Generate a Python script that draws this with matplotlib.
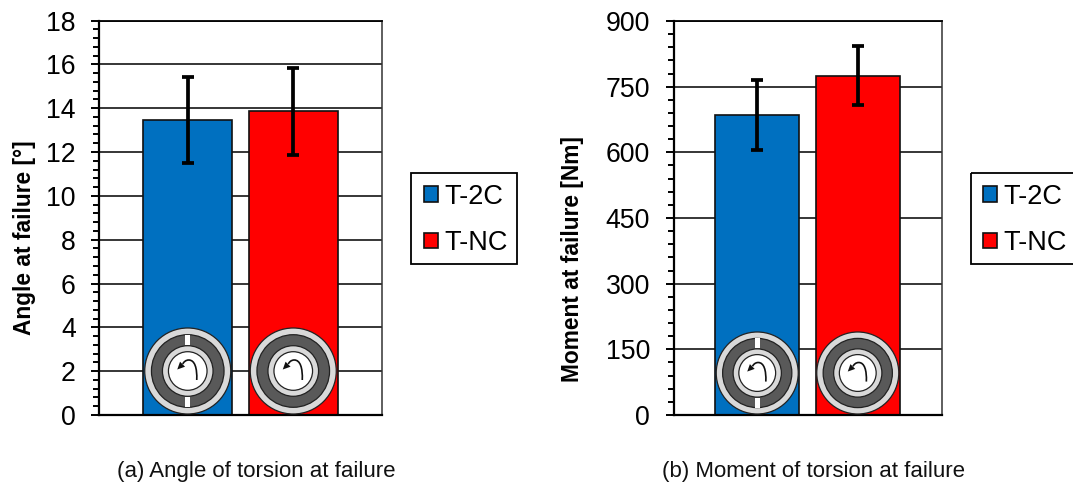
import matplotlib
matplotlib.use("Agg")
import matplotlib.pyplot as plt
from matplotlib.patches import Circle, Rectangle, PathPatch, Polygon
from matplotlib.path import Path
from matplotlib.ticker import MultipleLocator

plt.rcParams['font.family'] = ['Liberation Sans', 'DejaVu Sans']

W, H = 1073, 483
DPI = 100

# ---- data ----
categories = ["T-2C", "T-NC"]
angle_values = [13.45, 13.85]
angle_errors = [1.95, 2.0]
moment_values = [685, 775]
moment_errors = [80, 68]
angle_ticks = [0, 2, 4, 6, 8, 10, 12, 14, 16, 18]
moment_ticks = [0, 150, 300, 450, 600, 750, 900]
bar_colors = ["#0070C0", "#FF0000"]
slotted = [True, False]


def px_axes(left, right, top, bottom):
    return fig.add_axes([left / W, 1 - bottom / H, (right - left) / W, (bottom - top) / H])


def panel(ax, values, errors, ticks, minor, ylabel, label_xy, caption, caption_xy, legend_x, xlim):
    ax.set_axisbelow(True)
    ax.yaxis.grid(True, which='major', color='black', lw=1.1)
    ax.xaxis.grid(False)
    xs = [-0.5, 0.5]
    handles = []
    for x, v, e, c, n in zip(xs, values, errors, bar_colors, categories):
        b = ax.bar(x, v, width=0.84, color=c, edgecolor='#111111', lw=1.2, label=n, zorder=2)
        ax.errorbar(x, v, yerr=e, color='black', lw=2.7, capsize=4.4, capthick=2.7, zorder=3)
        handles.append(b)
    ax.set_xlim(*xlim)
    ax.set_ylim(ticks[0], ticks[-1])
    ax.set_xticks([])
    ax.set_yticks(ticks)
    ax.yaxis.set_minor_locator(MultipleLocator(minor))
    ax.tick_params(axis='y', which='major', length=5.8, width=1.4, labelsize=19.2, pad=11)
    ax.tick_params(axis='y', which='minor', length=4.0, width=1.4)
    for s in ('left', 'bottom'):
        ax.spines[s].set_linewidth(1.6)
    ax.spines['top'].set_linewidth(1.3)
    ax.spines['right'].set_linewidth(1.1)
    ax.spines['right'].set_color('#333333')
    fig.text(label_xy[0] / W, 1 - label_xy[1] / H, ylabel, rotation=90, fontsize=16.4,
             fontweight='bold', ha='center', va='center')
    fig.text(caption_xy[0] / W, 1 - caption_xy[1] / H, caption, fontsize=16, ha='center',
             va='center', color='#111111')
    leg = ax.legend(handles=handles, loc='upper left', bbox_to_anchor=((legend_x + 13) / W, 1 - 183.5 / H),
                    bbox_transform=fig.transFigure, fontsize=19.5, frameon=False,
                    borderaxespad=0, borderpad=0,
                    labelspacing=0.76, handlelength=0.53, handleheight=0.53, handletextpad=0.22)
    leg.set_zorder(10)
    return xs


def icon(ov, cx, cy, r, slots):
    k = r / 43.0
    ec = '#222222'
    ov.add_patch(Circle((cx, cy), r, fc='#D9D9D9', ec=ec, lw=0.9))
    ov.add_patch(Circle((cx, cy), 36.3 * k, fc='#595959', ec=ec, lw=0.9))
    if slots:
        for sgn in (-1, 1):
            y0 = cy + sgn * 31 * k
            ov.add_patch(Rectangle((cx - 2.5, y0 - 5.2 * k), 5, 10.4 * k, fc='white', ec='none'))
    ov.add_patch(Circle((cx, cy), 25.3 * k, fc='#D9D9D9', ec=ec, lw=0.9))
    ov.add_patch(Circle((cx, cy), 19.3 * k, fc='white', ec=ec, lw=0.9))
    verts = [(cx + 9 * k, cy + 9 * k), (cx + 9.5 * k, cy - 3 * k), (cx + 7 * k, cy - 11 * k),
             (cx + 1 * k, cy - 11 * k), (cx - 2 * k, cy - 11 * k), (cx - 4 * k, cy - 9 * k),
             (cx - 5 * k, cy - 7 * k)]
    codes = [Path.MOVETO] + [Path.CURVE4] * 6
    ov.add_patch(PathPatch(Path(verts, codes), fc='none', ec='#111111', lw=1.2))
    ov.add_patch(Polygon([(cx - 10.5 * k, cy - 1.5 * k), (cx - 7.7 * k, cy - 9.3 * k),
                          (cx - 2.7 * k, cy - 4.3 * k)], closed=True, fc='#111111', ec='none'))


fig = plt.figure(figsize=(W / DPI, H / DPI), dpi=DPI, facecolor='white')

ax1 = px_axes(99, 382, 20.5, 415)
ax2 = px_axes(673.5, 941.5, 21, 415)

xs1 = panel(ax1, angle_values, angle_errors, angle_ticks, 0.4, "Angle at failure [°]", (25, 237.5),
            "(a) Angle of torsion at failure", (256.5, 471), 411, (-1.341, 1.341))
xs2 = panel(ax2, moment_values, moment_errors, moment_ticks, 30, "Moment at failure [Nm]", (572, 259.5),
            "(b) Moment of torsion at failure", (813.5, 471), 970, (-1.333, 1.333))

ov = fig.add_axes([0, 0, 1, 1], zorder=5)
ov.set_xlim(0, W)
ov.set_ylim(H, 0)
ov.axis('off')
ov.patch.set_alpha(0)

for ax, xs, cy, r in ((ax1, xs1, 371, 43), (ax2, xs2, 373, 41)):
    for x, s in zip(xs, slotted):
        cx = ax.transData.transform((x, 0))[0]
        icon(ov, cx, cy, r, s)

# legend frames
ov.add_patch(Rectangle((411, 172.5), 106, 91.5, fc='none', ec='black', lw=1.3))
ov.add_patch(Rectangle((970.5, 172.5), 120, 91, fc='none', ec='black', lw=1.3))

fig.savefig("out.png", dpi=DPI)
